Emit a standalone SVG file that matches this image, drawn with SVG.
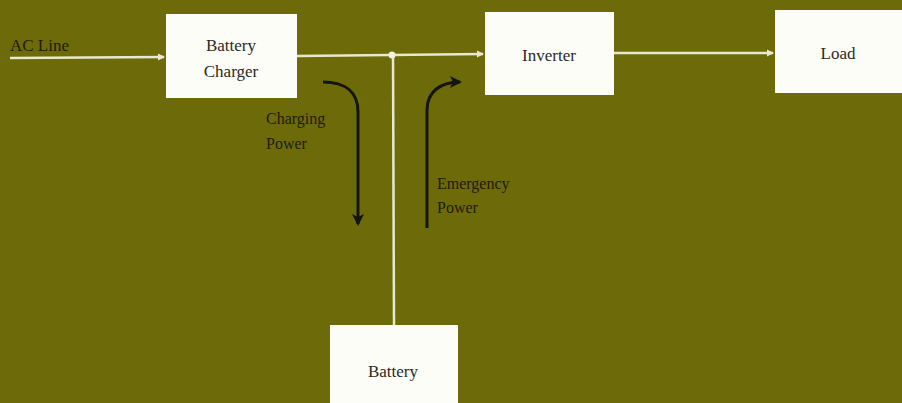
<svg xmlns="http://www.w3.org/2000/svg" width="902" height="403" viewBox="0 0 902 403">
<style>
.box{fill:#fdfdf8;}
.lbl{font-family:"Liberation Serif","DejaVu Serif",serif;font-size:17px;fill:#2a2a24;text-anchor:middle;}
.note{font-family:"Liberation Serif","DejaVu Serif",serif;font-size:16px;fill:#1e1c08;}
.wire{stroke:#e8e8d0;stroke-width:2.5;fill:none;}
.flow{stroke:#141410;stroke-width:3;fill:none;}
</style>
<defs>
<marker id="wa" markerWidth="8" markerHeight="8" refX="6" refY="4" orient="auto" markerUnits="userSpaceOnUse">
<path d="M0,0.5 L7,4 L0,7.5 Z" fill="#e8e8d0"/>
</marker>
<marker id="fa" markerWidth="14" markerHeight="12" refX="10" refY="6" orient="auto" markerUnits="userSpaceOnUse">
<path d="M0,0 L12,6 L0,12 L3,6 Z" fill="#141410"/>
</marker>
</defs>
<rect width="902" height="403" fill="#6d6a0a"/>
<g id="connectors">
<path class="wire" d="M10,58 L164,57" marker-end="url(#wa)"/>
<path class="wire" d="M297,56 L483,54" marker-end="url(#wa)"/>
<path class="wire" d="M393,55 L394,325"/>
<circle cx="392" cy="55" r="3.5" fill="#f0f0dc"/>
<path class="wire" d="M614,53 L773,53" marker-end="url(#wa)"/>
<path class="flow" d="M323,82 C345,82 358,92 358,112 L358,224" marker-end="url(#fa)"/>
<path class="flow" d="M427,228 L427,110 C427,92 440,82 460,82" marker-end="url(#fa)"/>
</g>
<g id="ac-line"><text class="note" x="10" y="51" style="font-size:17px">AC Line</text></g>
<g id="battery-charger">
<rect class="box" x="166" y="14" width="131" height="84"/>
<text class="lbl" x="231" y="51">Battery</text>
<text class="lbl" x="231" y="77">Charger</text>
</g>
<g id="inverter">
<rect class="box" x="485" y="12" width="129" height="83"/>
<text class="lbl" x="549" y="61">Inverter</text>
</g>
<g id="load">
<rect class="box" x="775" y="10" width="127" height="83"/>
<text class="lbl" x="838" y="59">Load</text>
</g>
<g id="battery">
<rect class="box" x="330" y="325" width="128" height="78"/>
<text class="lbl" x="393" y="377">Battery</text>
</g>
<g id="charging-power">
<text class="note" x="266" y="124">Charging</text>
<text class="note" x="266" y="149">Power</text>
</g>
<g id="emergency-power">
<text class="note" x="437" y="189">Emergency</text>
<text class="note" x="437" y="213">Power</text>
</g>
</svg>
